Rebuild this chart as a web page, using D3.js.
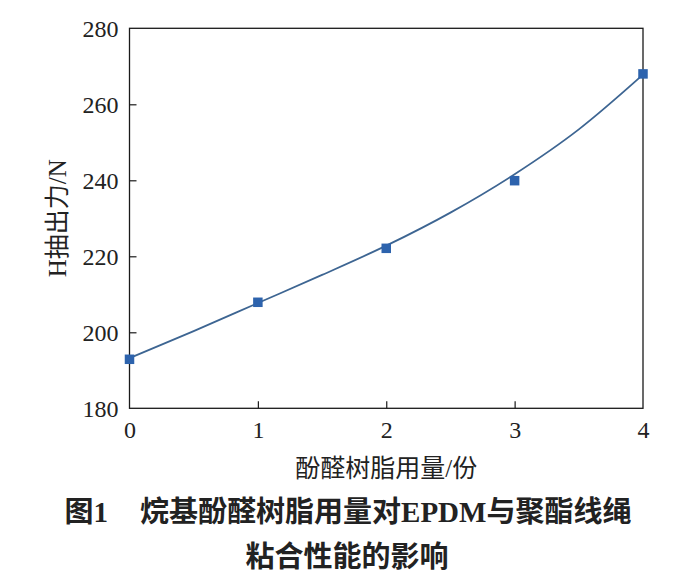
<!DOCTYPE html>
<html>
<head>
<meta charset="utf-8">
<script src="https://cdn.jsdelivr.net/npm/d3@7"></script>
<style>
html,body{margin:0;padding:0;background:#fff;}
svg{display:block;}
</style>
</head>
<body>
<svg id="chart" width="686" height="576"></svg>
<script>
// ---- data ----
const categories = [0, 1, 2, 3, 4];                 // 酚醛树脂用量/份
const pullOutForce = [192.9, 207.9, 222.1, 239.9, 268.0]; // H抽出力/N (measured points)
const fitX = [0, 0.5, 1, 1.5, 2, 2.5, 3, 3.5, 4];   // fitted curve
const fitY = [193.2, 200.3, 207.7, 215.1, 222.8, 231.5, 241.6, 253.4, 267.8];
const xTicks = [0, 1, 2, 3, 4];
const yTicks = [180, 200, 220, 240, 260, 280];
const xTitle = "酚醛树脂用量/份";
const yTitle = "H抽出力/N";
const captionLine1 = ["图1", "烷基酚醛树脂用量对", "EPDM", "与聚酯线绳"];
const captionLine2 = "粘合性能的影响";

// ---- layout ----
const svg = d3.select("#chart");
const L = 129.5, R = 643, T = 28.3, B = 408.3;
const FONT = "'Liberation Serif','Times New Roman','Noto Sans CJK SC',serif";
const x = d3.scaleLinear().domain([0, 4]).range([L, R]);
const y = d3.scaleLinear().domain([180, 280]).range([B, T]);

// frame
svg.append("rect")
  .attr("x", L).attr("y", T).attr("width", R - L).attr("height", B - T)
  .attr("fill", "none").attr("stroke", "#1a1a1a").attr("stroke-width", 1.3);

// left axis
const gy = svg.append("g").attr("transform", `translate(${L},0)`)
  .call(d3.axisLeft(y).tickValues(yTicks).tickSize(-7).tickSizeOuter(0).tickPadding(11));
gy.select(".domain").remove();
gy.selectAll(".tick line").attr("stroke", "#1a1a1a").attr("stroke-width", 1.2);
gy.selectAll(".tick text").attr("font-family", FONT).attr("font-size", 24).attr("fill", "#222").attr("dy", "0.36em");
gy.selectAll(".tick").filter(d => d === 180 || d === 280).select("line").remove();

// bottom axis
const gx = svg.append("g").attr("transform", `translate(0,${B})`)
  .call(d3.axisBottom(x).tickValues(xTicks).tickFormat(d3.format("d")).tickSize(-7).tickSizeOuter(0).tickPadding(13));
gx.select(".domain").remove();
gx.selectAll(".tick line").attr("stroke", "#1a1a1a").attr("stroke-width", 1.2);
gx.selectAll(".tick text").attr("font-family", FONT).attr("font-size", 24).attr("fill", "#222");
gx.selectAll(".tick").filter(d => d === 0 || d === 4).select("line").remove();

// fitted curve
const fit = fitX.map((v, i) => [v, fitY[i]]);
svg.append("path")
  .datum(fit)
  .attr("fill", "none")
  .attr("stroke", "#3d6592")
  .attr("stroke-width", 1.8)
  .attr("d", d3.line().x(d => x(d[0])).y(d => y(d[1])).curve(d3.curveMonotoneX));

// markers
const s = 9.5;
svg.append("g").selectAll("rect")
  .data(categories.map((c, i) => [c, pullOutForce[i]]))
  .join("rect")
  .attr("x", d => x(d[0]) - s / 2)
  .attr("y", d => y(d[1]) - s / 2)
  .attr("width", s).attr("height", s)
  .attr("fill", "#2d63ad");

// axis titles
svg.append("text")
  .attr("x", (L + R) / 2).attr("y", 477)
  .attr("text-anchor", "middle")
  .attr("font-family", FONT).attr("font-size", 25).attr("fill", "#222")
  .text(xTitle);

svg.append("text")
  .attr("transform", `translate(66,${(T + B) / 2}) rotate(-90)`)
  .attr("text-anchor", "middle")
  .attr("font-family", FONT).attr("font-size", 25).attr("fill", "#222")
  .text(yTitle);

// caption
const cap1 = svg.append("text")
  .attr("x", 348).attr("y", 522)
  .attr("text-anchor", "middle")
  .attr("font-family", FONT).attr("font-size", 29).attr("font-weight", "bold").attr("fill", "#222");
cap1.append("tspan").text(captionLine1[0]);
cap1.append("tspan").attr("dx", 32).text(captionLine1[1]);
cap1.append("tspan").text(captionLine1[2]);
cap1.append("tspan").text(captionLine1[3]);

svg.append("text")
  .attr("x", 347).attr("y", 567)
  .attr("text-anchor", "middle")
  .attr("font-family", FONT).attr("font-size", 29).attr("font-weight", "bold").attr("fill", "#222")
  .text(captionLine2);
</script>
</body>
</html>
